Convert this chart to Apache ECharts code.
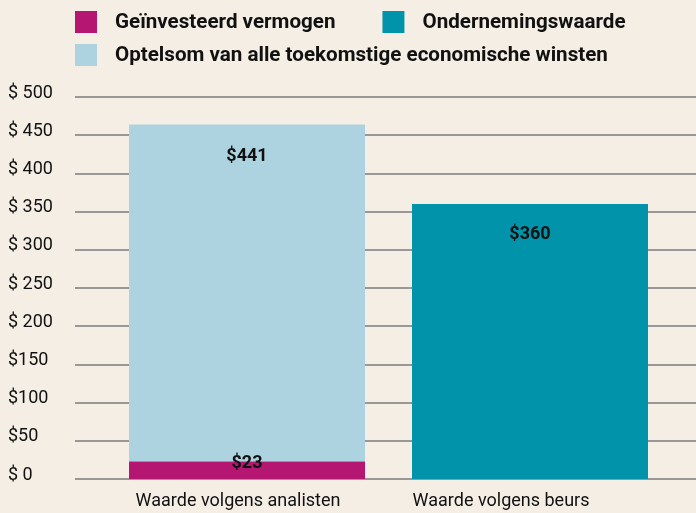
<!DOCTYPE html>
<html>
<head>
<meta charset="utf-8">
<script src="https://cdn.jsdelivr.net/npm/echarts@6/dist/echarts.min.js"></script>
<style>
  html, body { margin: 0; padding: 0; background: #f5eee5; }
  #main { width: 696px; height: 513px; }
</style>
</head>
<body>
<div id="main"></div>
<script>
// waarde volgens analisten vs beurs
var categories = ['Waarde volgens analisten', 'Waarde volgens beurs'];
var investedCapital = [23, null];
var futureProfits = [441, null];
var enterpriseValue = [null, 360];
var tickLabels = ['$ 0', '$50', '$100', '$150', '$ 200', '$ 250', '$ 300', '$ 350', '$ 400', '$ 450', '$ 500'];
var seriesNames = ['Geïnvesteerd vermogen', 'Ondernemingswaarde', 'Optelsom van alle toekomstige economische winsten'];

var chart = echarts.init(document.getElementById('main'));

var font = 'Roboto, sans-serif';
var legendText = {
    color: '#111',
    fontFamily: font,
    fontSize: 20.6,
    fontWeight: 'bold',
    rich: { t: { padding: [2, 0, 0, 13], fontSize: 20.6, fontWeight: 'bold', fontFamily: font, color: '#111' } }
};

option = {
    backgroundColor: '#f5eee5',
    animation: false,
    legend: [
        {
            left: 75,
            top: 11,
            padding: 0,
            itemWidth: 22,
            itemHeight: 22,
            itemGap: 47,
            icon: 'rect',
            data: [seriesNames[0], seriesNames[1]],
            formatter: '{t|{name}}',
            textStyle: legendText
        },
        {
            left: 75,
            top: 44,
            padding: 0,
            itemWidth: 22,
            itemHeight: 22,
            icon: 'rect',
            data: [seriesNames[2]],
            formatter: '{t|{name}}',
            textStyle: legendText
        }
    ],
    grid: [
        { left: 75, right: 0, top: 97, bottom: 34 },
        { left: 105.5, right: 24.5, top: 97, bottom: 34 }
    ],
    xAxis: [
        {
            type: 'category',
            gridIndex: 0,
            data: ['', ''],
            show: false
        },
        {
            type: 'category',
            gridIndex: 1,
            data: categories,
            axisLine: { show: false },
            axisTick: { show: false },
            axisLabel: {
                margin: 13,
                formatter: function (v, i) {
                    return i === 0 ? '{a|' + v + '}' : '{b|' + v + '}';
                },
                rich: {
                    a: { fontFamily: font, fontSize: 18, color: '#111', padding: [0, 18, 0, 0] },
                    b: { fontFamily: font, fontSize: 18, color: '#111', padding: [0, 58, 0, 0] }
                }
            }
        }
    ],
    yAxis: [
        {
            type: 'value',
            gridIndex: 0,
            min: 0,
            max: 500,
            interval: 50,
            axisLine: { show: false },
            axisTick: { show: false },
            splitLine: { lineStyle: { color: '#7b7b7b', width: 1.5 } },
            axisLabel: {
                align: 'left',
                verticalAlign: 'bottom',
                lineHeight: 8,
                margin: 67,
                color: '#111',
                fontFamily: font,
                fontSize: 18,
                formatter: function (v) { return tickLabels[Math.round(v / 50)]; }
            }
        },
        {
            type: 'value',
            gridIndex: 1,
            min: 0,
            max: 500,
            interval: 50,
            show: false
        }
    ],
    series: [
        {
            name: seriesNames[0],
            type: 'bar',
            stack: 'a',
            xAxisIndex: 1,
            yAxisIndex: 1,
            barWidth: 236,
            itemStyle: { color: '#b51672' },
            label: {
                show: true,
                position: 'inside',
                offset: [0, -7],
                formatter: '${c}',
                color: '#111',
                fontFamily: font,
                fontSize: 18,
                fontWeight: 'bold'
            },
            data: investedCapital,
            z: 3
        },
        {
            name: seriesNames[2],
            type: 'bar',
            stack: 'a',
            xAxisIndex: 1,
            yAxisIndex: 1,
            barWidth: 236,
            itemStyle: { color: '#acd3df' },
            label: {
                show: true,
                position: 'insideTop',
                distance: 23,
                formatter: '${c}',
                color: '#111',
                fontFamily: font,
                fontSize: 18,
                fontWeight: 'bold'
            },
            data: futureProfits
        },
        {
            name: seriesNames[1],
            type: 'bar',
            stack: 'a',
            xAxisIndex: 1,
            yAxisIndex: 1,
            barWidth: 236,
            itemStyle: { color: '#0093aa' },
            label: {
                show: true,
                position: 'insideTop',
                distance: 22,
                formatter: '${c}',
                color: '#111',
                fontFamily: font,
                fontSize: 18,
                fontWeight: 'bold'
            },
            data: enterpriseValue
        }
    ]
};
chart.setOption(option);
</script>
</body>
</html>
